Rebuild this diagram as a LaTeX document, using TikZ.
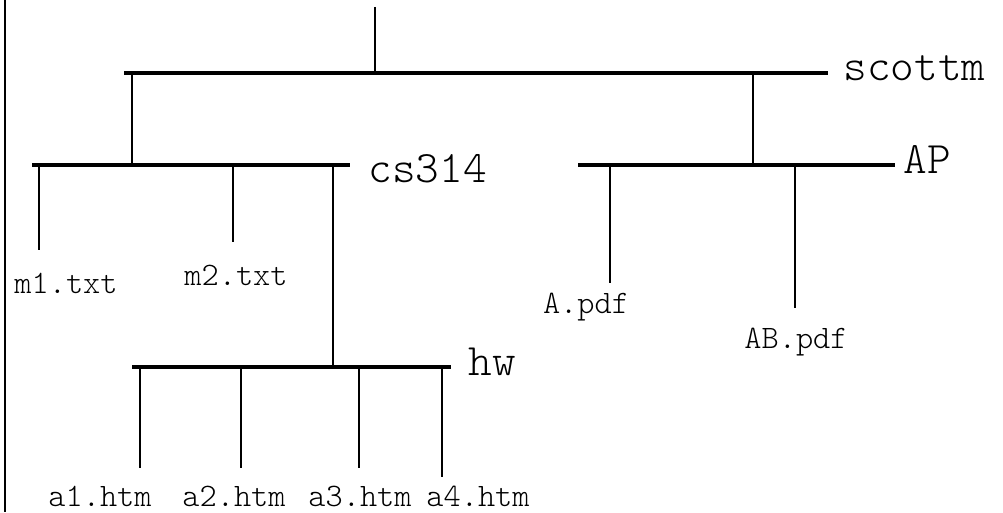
\documentclass[tikz,border=0pt]{standalone}
\usepackage{fontspec}
\setmonofont{Latin Modern Mono Light}
\usetikzlibrary{positioning}
\tikzset{every picture/.style={/utils/exec={\ttfamily}}}

\begin{document}
\begin{tikzpicture}[x=0.025cm, y=-0.025cm, line width=0.8pt,
        bar/.style={line width=3.5pt},
        dirname/.style={anchor=base west, inner sep=0pt, font=\ttfamily\fontsize{32}{32}\selectfont},
        filename/.style={anchor=base, inner sep=0pt, font=\ttfamily\fontsize{23.3}{23.3}\selectfont}]
        \useasboundingbox (0,0) rectangle (1003,512);

        % Frame
        \draw (5,0) -- (5,512);

        % Bars
        \coordinate (scottmL) at (124,73);  \coordinate (scottmR) at (828,73);
        \coordinate (cs314L) at (32,165);   \coordinate (cs314R) at (350,165);
        \coordinate (APL) at (578,165);     \coordinate (APR) at (895,165);
        \coordinate (hwL) at (132,367);     \coordinate (hwR) at (451,367);
        \draw[bar] (scottmL) -- (scottmR);
        \draw[bar] (cs314L) -- (cs314R);
        \draw[bar] (APL) -- (APR);
        \draw[bar] (hwL) -- (hwR);

        % Directory names
        \node[dirname] (scottm) at (843,80) {scottm};
        \node[dirname] (cs314) at (368,182) {cs314};
        \node[dirname] (AP) at (903,173) {AP};
        \node[dirname] (hw) at (468,375) {hw};

        % File names
        \node[filename] (m1) at (66,293) {m1.txt};
        \node[filename] (m2) at (236,285) {m2.txt};
        \node[filename] (Apdf) at (586,313) {A.pdf};
        \node[filename] (ABpdf) at (796,348) {AB.pdf};
        \node[filename] (a1) at (100,506) {a1.htm};
        \node[filename] (a2) at (234,506) {a2.htm};
        \node[filename] (a3) at (360,506) {a3.htm};
        \node[filename] (a4) at (478,506) {a4.htm};

        % Junctions and stub ends
        \coordinate (rootTop) at (375,7);   \coordinate (rootJ) at (375,73);
        \coordinate (cs314Up) at (132,73);  \coordinate (cs314J) at (132,165);
        \coordinate (APUp) at (753,73);     \coordinate (APJ) at (753,165);
        \coordinate (hwUp) at (333,165);    \coordinate (hwJ) at (333,367);
        \coordinate (m1J) at (39,165);      \coordinate (m1End) at (39,250);
        \coordinate (m2J) at (233,165);     \coordinate (m2End) at (233,242);
        \coordinate (AJ) at (610,165);      \coordinate (AEnd) at (610,283);
        \coordinate (ABJ) at (795,165);     \coordinate (ABEnd) at (795,308);
        \coordinate (a1J) at (140,367);     \coordinate (a1End) at (140,468);
        \coordinate (a2J) at (241,367);     \coordinate (a2End) at (241,468);
        \coordinate (a3J) at (359,367);     \coordinate (a3End) at (359,468);
        \coordinate (a4J) at (442,367);     \coordinate (a4End) at (442,477);

        % Links
        \draw (rootTop) -- (rootJ);
        \draw (cs314Up) -- (cs314J);
        \draw (APUp) -- (APJ);
        \draw (hwUp) -- (hwJ);
        \draw (m1J) -- (m1End);
        \draw (m2J) -- (m2End);
        \draw (AJ) -- (AEnd);
        \draw (ABJ) -- (ABEnd);
        \draw (a1J) -- (a1End);
        \draw (a2J) -- (a2End);
        \draw (a3J) -- (a3End);
        \draw (a4J) -- (a4End);
    \end{tikzpicture}
\end{document}
